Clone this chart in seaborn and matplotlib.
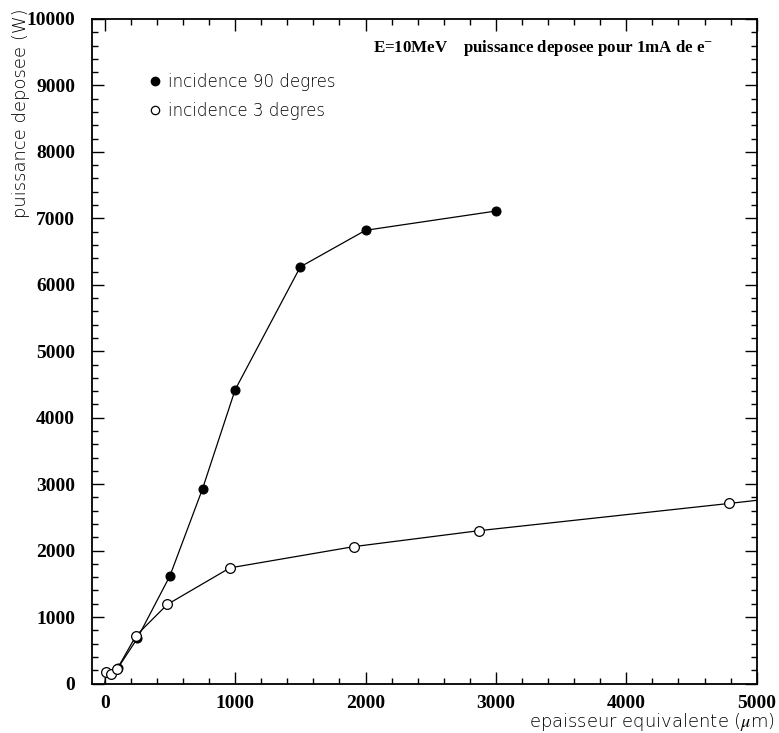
import matplotlib
matplotlib.use("Agg")
import numpy as np
import pandas as pd
import seaborn as sns
import matplotlib.pyplot as plt
from matplotlib.lines import Line2D
from matplotlib.ticker import MultipleLocator

# incidence 90 degres (points pleins)
ep_90 = [100, 250, 500, 750, 1000, 1500, 2000, 3000]
p_90 = [230, 680, 1620, 2930, 4420, 6270, 6820, 7110]

# incidence 3 degres (points vides), le dernier point sort du cadre
ep_3 = [0, 10, 48, 96, 240, 480, 960, 1910, 2870, 4790, 7660]
p_3 = [0, 170, 150, 220, 720, 1190, 1740, 2060, 2300, 2710, 3350]

x_ticks = [0, 1000, 2000, 3000, 4000, 5000]
y_ticks = [0, 1000, 2000, 3000, 4000, 5000, 6000, 7000, 8000, 9000, 10000]

sns.set_theme(style="ticks")
plt.rcParams['mathtext.fontset'] = 'stix'
plt.rcParams['text.color'] = 'black'
plt.rcParams['xtick.color'] = 'black'
plt.rcParams['ytick.color'] = 'black'

fig = plt.figure(figsize=(7.79, 7.33), dpi=100)
ax = fig.add_axes([0.1177, 0.0675, 0.9714 - 0.1177, 0.9741 - 0.0675])

df90 = pd.DataFrame({'ep': ep_90, 'p': p_90})
df3 = pd.DataFrame({'ep': ep_3, 'p': p_3})

sns.lineplot(data=df90, x='ep', y='p', ax=ax, sort=False, color='black',
             linewidth=0.9, marker='o', markersize=6.5,
             markerfacecolor='black', markeredgecolor='black')
sns.lineplot(data=df3, x='ep', y='p', ax=ax, sort=False, color='black',
             linewidth=0.9, marker='o', markersize=7,
             markerfacecolor='white', markeredgecolor='black',
             markeredgewidth=0.9, markevery=list(range(1, len(ep_3))))

ax.set_xlim(-100, 5000)
ax.set_ylim(0, 10000)
ax.set_xticks(x_ticks)
ax.set_yticks(y_ticks)
ax.xaxis.set_minor_locator(MultipleLocator(200))
ax.yaxis.set_minor_locator(MultipleLocator(200))
ax.tick_params(which='both', direction='in', top=True, right=True,
               color='black', labelcolor='black', width=1)
ax.tick_params(which='major', length=8.5)
ax.tick_params(which='minor', length=4.3)
ax.tick_params(axis='x', which='major', pad=8)
ax.tick_params(axis='y', which='major', pad=12)
for lab in ax.get_xticklabels() + ax.get_yticklabels():
    lab.set_fontfamily('Liberation Serif')
    lab.set_fontweight('bold')
    lab.set_fontsize(14)
for sp in ax.spines.values():
    sp.set_color('black')
    sp.set_linewidth(1.3)

ax.set_xlabel('')
ax.set_ylabel('')
fig.text(0.995, 1 - 722 / 733, r'epaisseur equivalente ($\mu$m)',
         ha='right', va='center', fontsize=13, fontweight='light',
         family='DejaVu Sans', color='black')
fig.text(21 / 779, 1 - 8 / 733, 'puissance deposee (W)', rotation=90,
         ha='center', va='top', fontsize=13, fontweight='light',
         family='DejaVu Sans', color='black')

fig.text(373 / 779, 1 - 48 / 733,
         'E=10MeV    puissance deposee pour 1mA de e$^{-}$',
         ha='left', va='center', fontsize=12.2, fontweight='bold',
         family='Liberation Serif', color='black')

handles = [
    Line2D([], [], linestyle='none', marker='o', markersize=6,
           markerfacecolor='black', markeredgecolor='black'),
    Line2D([], [], linestyle='none', marker='o', markersize=6,
           markerfacecolor='white', markeredgecolor='black', markeredgewidth=0.9),
]
leg = ax.legend(handles, ['incidence 90 degres', 'incidence 3 degres'],
                loc='upper left', bbox_to_anchor=(150 / 779, 1 - 73 / 733),
                bbox_transform=fig.transFigure, frameon=False, borderpad=0,
                borderaxespad=0, handlelength=0.6, handletextpad=0.45,
                labelspacing=0.65, prop={'family': 'DejaVu Sans', 'size': 12,
                                         'weight': 'light'})
for t in leg.get_texts():
    t.set_color('black')

fig.savefig('out.png', dpi=100)
